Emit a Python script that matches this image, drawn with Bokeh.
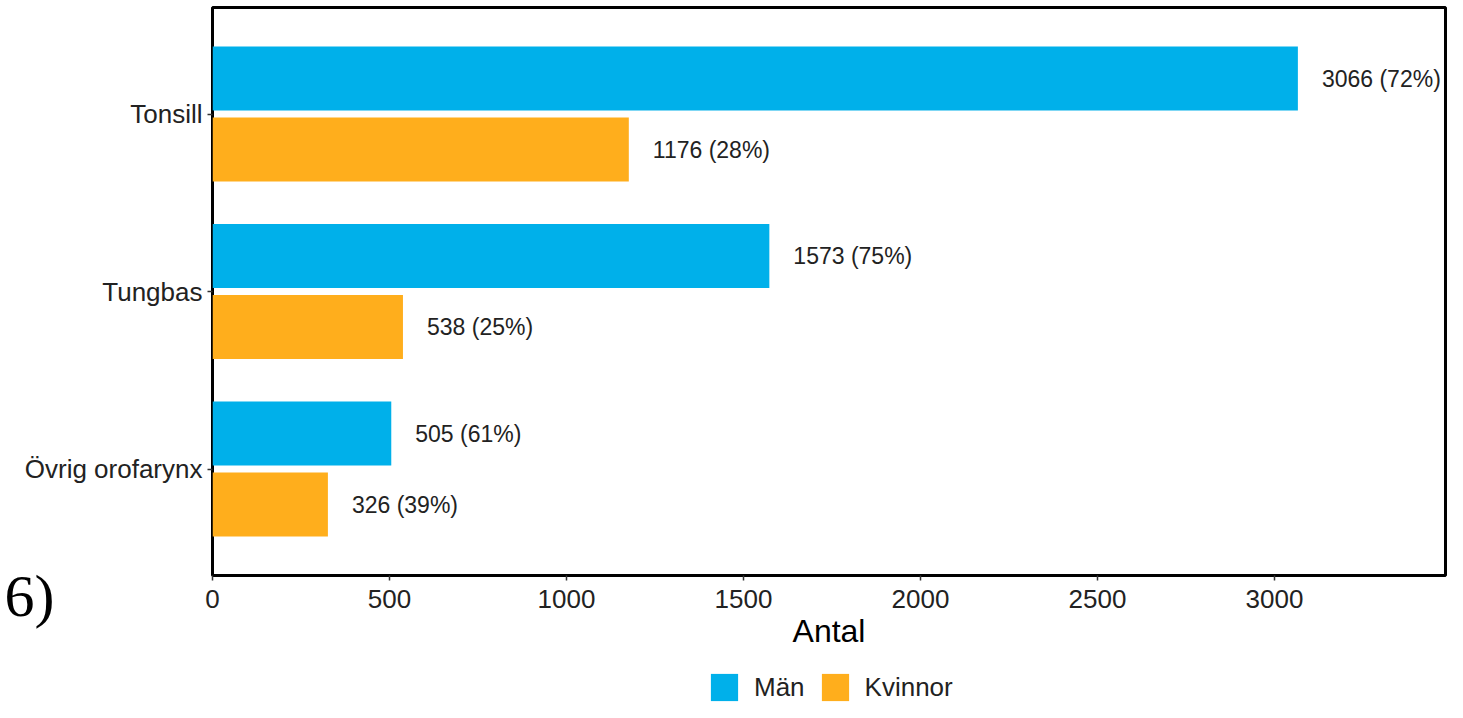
from bokeh.plotting import figure
from bokeh.layouts import column
from bokeh.models import (ColumnDataSource, Range1d, FixedTicker,
                          Legend, LegendItem, LinearAxis)
from bokeh.transform import dodge
from bokeh.embed import file_html
from bokeh.resources import INLINE
from bokeh.core.properties import value

# ---- data ----
categories = ["Tonsill", "Tungbas", "Övrig orofarynx"]
man = [3066, 1573, 505]
kvinnor = [1176, 538, 326]
man_pct = [72, 75, 61]
kvinnor_pct = [28, 25, 39]
series_names = ["Män", "Kvinnor"]
x_ticks = [0, 500, 1000, 1500, 2000, 2500, 3000]
x_title = "Antal"
side_note = "6)"

colors = ["#00B0EA", "#FFAE1C"]
FONT = "Liberation Sans"
TXT = "#222222"

# category positions on the y scale (first category on top)
pos = list(range(len(categories), 0, -1))

src = ColumnDataSource(dict(
    pos=pos,
    man=man,
    kv=kvinnor,
    man_lab=[f"{v} ({p}%)" for v, p in zip(man, man_pct)],
    kv_lab=[f"{v} ({p}%)" for v, p in zip(kvinnor, kvinnor_pct)],
))

p = figure(width=1447, height=670,
           y_range=Range1d(0.4, len(categories) + 0.6),
           x_range=Range1d(0, 3483),
           output_backend="svg", toolbar_location=None,
           min_border_left=212, min_border_right=2,
           min_border_top=7, min_border_bottom=95)

r1 = p.hbar(y=dodge("pos", 0.2), left=0, right="man",
            height=0.36, source=src, fill_color=colors[0], line_color=None)
r2 = p.hbar(y=dodge("pos", -0.2), left=0, right="kv",
            height=0.36, source=src, fill_color=colors[1], line_color=None)

p.text(x="man", y=dodge("pos", 0.2), text="man_lab",
       source=src, x_offset=24, text_baseline="middle", text_align="left",
       text_font=value(FONT), text_font_size="23px", text_color=TXT)
p.text(x="kv", y=dodge("pos", -0.2), text="kv_lab",
       source=src, x_offset=24, text_baseline="middle", text_align="left",
       text_font=value(FONT), text_font_size="23px", text_color=TXT)

# frame
p.outline_line_color = "black"
p.outline_line_width = 3
p.xgrid.grid_line_color = None
p.ygrid.grid_line_color = None

# axes
p.xaxis.ticker = FixedTicker(ticks=x_ticks)
p.xaxis.axis_label = x_title
p.xaxis.axis_label_text_font = FONT
p.xaxis.axis_label_text_font_size = "32px"
p.xaxis.axis_label_text_font_style = "normal"
p.xaxis.axis_label_text_color = "black"
p.xaxis.axis_label_standoff = 2
p.yaxis.ticker = FixedTicker(ticks=pos)
p.yaxis.major_label_overrides = {k: c for k, c in zip(pos, categories)}
for ax in (p.xaxis, p.yaxis):
    ax.axis_line_color = None
    ax.major_tick_out = 5
    ax.major_tick_in = 0
    ax.minor_tick_out = 0
    ax.minor_tick_in = 0
    ax.major_tick_line_color = "#333333"
    ax.major_tick_line_width = 1.5
    ax.major_label_text_font = FONT
    ax.major_label_text_font_size = "26px"
    ax.major_label_text_color = TXT
p.xaxis.major_label_standoff = 9
p.yaxis.major_label_standoff = 5

# stray fragment of the surrounding document ("6)"), bottom-left,
# shown as the single label of an otherwise invisible outer axis
p.extra_y_ranges = {"note": Range1d(0, 1)}
note_axis = LinearAxis(y_range_name="note", ticker=FixedTicker(ticks=[0]),
                       major_label_overrides={0: "\n" + side_note},
                       axis_line_color=None, major_tick_line_color=None,
                       minor_tick_line_color=None, major_tick_out=0,
                       major_tick_in=0, minor_tick_out=0, minor_tick_in=0,
                       major_label_standoff=-33,
                       major_label_text_font="Liberation Serif",
                       major_label_text_font_size="60px",
                       major_label_text_line_height=0.62,
                       major_label_text_color="black")
p.add_layout(note_axis, "left")

# legend strip below (legend glyphs from hidden copies of the bars)
q = figure(width=1447, height=32, x_range=p.x_range, y_range=Range1d(-20, -19),
           x_axis_location=None, y_axis_location=None,
           output_backend="svg", toolbar_location=None,
           min_border=0, outline_line_color=None)
q.xgrid.grid_line_color = None
q.ygrid.grid_line_color = None
k1 = q.hbar(y="pos", left=0, right="man", height=0.36, source=src,
            fill_color=colors[0], line_color=None, visible=False)
k2 = q.hbar(y="pos", left=0, right="kv", height=0.36, source=src,
            fill_color=colors[1], line_color=None, visible=False)
legend = Legend(items=[LegendItem(label=series_names[0], renderers=[k1]),
                       LegendItem(label=series_names[1], renderers=[k2])],
                orientation="horizontal", location=(495, -2),
                glyph_width=34, glyph_height=34, label_height=34,
                label_standoff=13, spacing=13, padding=0, margin=0,
                border_line_color=None, background_fill_alpha=0,
                inactive_fill_alpha=0,
                label_text_font=FONT, label_text_font_size="26px",
                label_text_color=TXT)
q.add_layout(legend)

layout = column(p, q, spacing=0)
open("out.html", "w").write(file_html(layout, INLINE))
